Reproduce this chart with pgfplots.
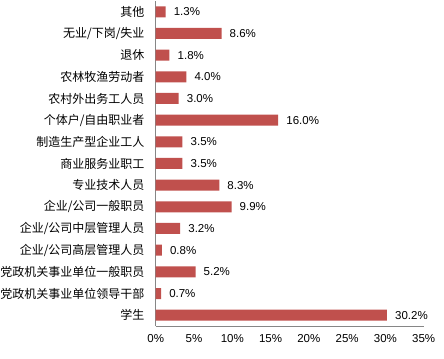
\documentclass[border=0pt]{standalone}
\usepackage{pgfplots}
\pgfplotsset{compat=1.18}
\usepackage{fontspec}
\setmainfont{Liberation Sans}
\newfontfamily\cjk{Noto Sans CJK SC}
\definecolor{barred}{HTML}{C0504D}
\definecolor{axgray}{HTML}{868686}
\begin{document}
\begin{tikzpicture}
\begin{axis}[
  at={(0,0)}, anchor=south west,
  scale only axis, width=268bp, height=325bp,
  xbar, bar width=11bp,
  xmin=0, xmax=35, ymin=-0.5, ymax=14.5,
  xtick={0,5,10,15,20,25,30,35},
  xticklabel={\pgfmathprintnumber{\tick}\%},
  ytick={0,1,2,3,4,5,6,7,8,9,10,11,12,13,14},
  yticklabels={学生,党政机关事业单位领导干部,党政机关事业单位一般职员,企业/公司高层管理人员,企业/公司中层管理人员,企业/公司一般职员,专业技术人员,商业服务业职工,制造生产型企业工人,个体户/自由职业者,农村外出务工人员,农林牧渔劳动者,退休,无业/下岗/失业,其他},
  yticklabel style={font=\cjk\fontsize{12bp}{14bp}\selectfont, inner sep=0pt, xshift=-11bp},
  xticklabel style={font=\fontsize{11.5bp}{13bp}\selectfont, inner sep=0pt, yshift=-8bp},
  axis x line*=bottom, axis y line*=left,
  axis line style={draw=axgray,-},
  major tick length=0pt, tick style={draw=none},
  /pgf/number format/assume math mode=true,
  point meta=x,
  nodes near coords={\pgfmathprintnumber[fixed,fixed zerofill,precision=1]{\pgfplotspointmeta}\%},
  nodes near coords style={anchor=west, inner sep=0pt, xshift=8bp, font=\fontsize{11.5bp}{13bp}\selectfont, text=black},
]
\addplot[fill=barred, draw=none] coordinates {
(30.2,0) (0.7,1) (5.2,2) (0.8,3) (3.2,4) (9.9,5) (8.3,6) (3.5,7) (3.5,8) (16.0,9) (3.0,10) (4.0,11) (1.8,12) (8.6,13) (1.3,14)
};
\end{axis}
\pgfresetboundingbox
\path[use as bounding box] (-155.7bp,-33bp) rectangle (288.3bp,326bp);
\end{tikzpicture}
\end{document}
